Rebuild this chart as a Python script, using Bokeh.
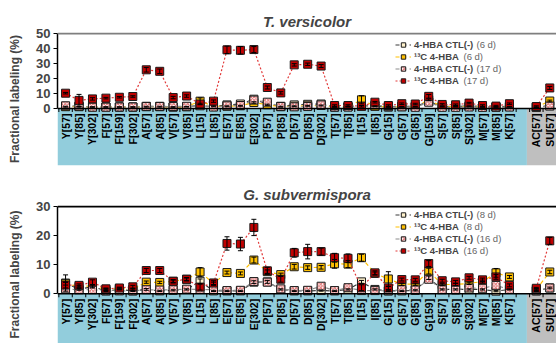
import numpy as np
from bokeh.plotting import figure
from bokeh.models import (ColumnDataSource, Range1d, FixedTicker, BoxAnnotation, Span,
                          Whisker, TeeHead, Legend, LegendItem, Label)
from bokeh.layouts import column
from bokeh.embed import file_html
from bokeh.resources import INLINE
from bokeh.core.properties import value

# ---------------- data ----------------
CATS_MAIN = ["Y[57]", "Y[85]", "Y[302]", "F[57]", "F[159]", "F[302]", "A[57]", "A[85]",
             "V[57]", "V[85]", "L[15]", "L[85]", "E[57]", "E[85]", "E[302]", "P[57]", "P[85]",
             "D[57]", "D[85]", "D[302]", "T[57]", "T[85]", "I[15]", "I[85]", "G[15]", "G[57]",
             "G[85]", "G[159]", "S[57]", "S[85]", "S[302]", "M[57]", "M[85]", "K[57]"]
CATS_EXTRA = ["AC[57]", "SU[57]"]

TV_TITLE = "T. versicolor"
TV_LABELS = [("4-HBA CTL(-)", "(6 d)"), ("\u00b9\u00b3C 4-HBA", "(6 d)"),
             ("4-HBA CTL(-)", "(17 d)"), ("\u00b9\u00b3C 4-HBA", "(17 d)")]
TV_CTL_A = [1.5, 1.5, 1.0, 1.0, 1.0, 1.0, 1.5, 1.5, 1.0, 1.2, 2.0, 1.2, 2.4, 3.0, 6.2, 3.0, 1.5,
            2.4, 2.8, 3.0, 1.0, 1.2, 2.0, 1.5, 1.2, 1.5, 1.5, 4.5, 1.5, 1.2, 1.8, 1.2, 1.0, 1.5,
            1.0, 2.0]
TV_13C_A = [1.2, 1.2, 1.0, 1.0, 1.0, 1.0, 1.2, 1.2, 1.0, 1.2, 4.9, 1.5, 1.5, 1.8, 4.0, 2.5, 1.2,
            1.5, 1.8, 2.0, 1.0, 1.2, 5.8, 1.5, 1.0, 1.2, 1.2, 5.8, 1.2, 1.2, 1.5, 1.0, 1.0, 1.2,
            0.8, 5.0]
TV_13C_A_ERR = [0.3, 0.3, 0.2, 0.2, 0.2, 0.2, 0.3, 0.3, 0.2, 0.2, 2.2, 0.3, 0.3, 0.3, 0.5, 0.4, 0.3,
                0.3, 0.3, 0.3, 0.2, 0.2, 2.7, 0.3, 0.2, 0.2, 0.2, 0.6, 0.2, 0.2, 0.3, 0.2, 0.2, 0.2,
                0.2, 0.6]
TV_CTL_B = [1.8, 1.6, 0.9, 0.9, 1.0, 1.0, 1.3, 1.3, 1.3, 1.5, 1.8, 1.0, 1.8, 2.0, 5.6, 4.2, 1.3,
            1.1, 1.3, 2.4, 1.0, 1.0, 1.5, 2.4, 1.2, 1.1, 0.8, 4.2, 0.8, 0.8, 1.0, 0.8, 0.8, 1.0,
            0.8, 1.6]
TV_13C_B = [10.2, 5.4, 6.4, 6.9, 7.5, 8.0, 25.8, 24.8, 7.3, 8.3, 3.0, 4.9, 39.1, 38.8, 39.3, 14.0,
            10.4, 29.1, 29.5, 28.3, 2.0, 2.0, 1.5, 4.2, 2.0, 3.2, 3.0, 8.1, 2.7, 2.5, 3.6, 2.0, 1.6,
            3.2, 1.3, 13.7]
TV_13C_B_ERR = [0.5, 4.0, 0.8, 0.5, 0.5, 0.5, 1.5, 1.5, 0.8, 0.8, 0.5, 0.8, 2.5, 2.5, 2.0, 1.0,
                0.8, 0.8, 0.8, 1.0, 0.5, 0.5, 0.5, 0.5, 0.5, 0.5, 0.5, 1.2, 0.5, 0.5, 0.5, 0.5,
                0.5, 0.5, 0.5, 1.0]

GS_TITLE = "G. subvermispora"
GS_LABELS = [("4-HBA CTL(-)", "(8 d)"), ("\u00b9\u00b3C 4-HBA", "(8 d)"),
             ("4-HBA CTL(-)", "(16 d)"), ("\u00b9\u00b3C 4-HBA", "(16 d)")]
GS_CTL_A = [3.7, 1.5, 2.5, 1.0, 1.5, 1.0, 1.5, 1.0, 1.2, 1.5, 4.3, 1.0, 1.0, 1.0, 4.0, 4.1, 1.5,
            1.0, 1.0, 1.1, 1.0, 1.5, 4.1, 1.5, 1.0, 1.0, 1.2, 5.5, 1.5, 1.5, 1.5, 1.5, 0.9, 1.5,
            1.0, 2.0]
GS_CTL_A_ERR = [2.8, 0.3, 0.5, 0.2, 0.2, 0.2, 0.3, 0.2, 0.2, 0.2, 0.8, 0.2, 0.2, 0.2, 0.5, 0.5,
                0.2, 0.2, 0.2, 0.2, 0.2, 0.2, 0.5, 0.2, 0.2, 0.2, 0.2, 0.6, 0.2, 0.2, 0.2, 0.2,
                0.2, 0.2, 0.2, 0.3]
GS_13C_A = [3.5, 2.5, 2.7, 1.5, 1.8, 1.6, 4.0, 3.9, 4.3, 5.0, 7.5, 3.6, 7.3, 7.0, 11.6, 7.6, 6.6,
            9.3, 9.0, 9.1, 10.3, 10.2, 12.4, 7.0, 5.1, 3.3, 3.3, 7.8, 3.2, 3.2, 3.6, 4.2, 7.2, 5.8,
            1.5, 7.5]
GS_13C_A_ERR = [0.5, 0.4, 0.4, 0.3, 0.3, 0.3, 0.4, 0.4, 0.4, 0.4, 1.5, 0.4, 0.5, 0.5, 1.0, 0.6,
                0.5, 0.8, 0.6, 0.6, 1.5, 1.2, 1.2, 0.5, 2.5, 0.4, 0.4, 1.0, 0.4, 0.4, 0.4, 0.5,
                1.5, 0.5, 0.3, 0.6]
GS_CTL_B = [1.7, 1.4, 1.4, 1.0, 1.0, 1.0, 1.4, 1.3, 1.4, 1.6, 1.5, 1.4, 1.1, 1.2, 4.2, 4.0, 1.7,
            1.1, 1.2, 2.6, 1.1, 2.1, 1.1, 1.1, 1.0, 1.4, 1.3, 5.0, 1.4, 1.3, 2.0, 1.9, 2.9, 1.5,
            1.0, 2.0]
GS_13C_B = [3.0, 2.9, 4.0, 1.7, 2.0, 2.4, 8.0, 8.0, 4.3, 5.0, 2.3, 3.7, 17.3, 17.1, 22.8, 7.9,
            5.0, 14.1, 14.5, 14.5, 12.4, 12.2, 2.1, 7.2, 2.0, 4.9, 4.8, 10.4, 4.5, 4.1, 5.5, 4.8,
            5.8, 2.9, 1.9, 18.2]
GS_13C_B_ERR = [1.0, 0.5, 0.8, 0.3, 0.3, 0.5, 0.7, 0.7, 0.6, 0.6, 1.0, 0.8, 2.3, 2.3, 2.8, 1.2,
                1.0, 1.5, 2.5, 1.2, 1.5, 1.5, 1.0, 0.7, 0.5, 0.5, 0.5, 1.0, 0.5, 0.5, 0.5, 0.6,
                0.8, 0.5, 0.3, 1.2]

# ---------------- styling ----------------
W = 556
LEFT = 57
X_RANGE = (-0.6, 36.5)
BLUE = "#92cddc"
GREY = "#bfbfbf"
FONT = "Liberation Sans"

STYLES = [
    dict(fill="#fff2cc", line="#3a3a3a", dash="4 3", hatch=None),
    dict(fill="#ffc000", line="#ffc000", dash="4 3", hatch=None),
    dict(fill="#ffffff", line="#8c8c8c", dash="4 3", hatch="diagonal_cross"),
    dict(fill="#c00000", line="#e23a3a", dash="2 2", hatch=None),
]

n_main = len(CATS_MAIN)
x_main = list(range(n_main))
x_extra = [n_main + 1 + j for j in range(len(CATS_EXTRA))]
x_all = x_main + x_extra
cats_all = CATS_MAIN + CATS_EXTRA


def make_panel(title, ymax, px_per_unit, series, errs, labels, frame_h, top_border,
               bottom_border, top_line_color, legend_bottom):
    upp = 1.0 / px_per_unit
    y_top = ymax + upp
    y_bot = y_top - frame_h * upp
    p = figure(width=W, height=frame_h + top_border + bottom_border,
               x_range=Range1d(*X_RANGE), y_range=Range1d(y_bot, y_top),
               output_backend="svg", toolbar_location=None, x_axis_location=None,
               min_border_left=LEFT, min_border_right=0, min_border_top=top_border,
               min_border_bottom=bottom_border)
    p.outline_line_color = None
    p.xgrid.visible = False
    p.ygrid.visible = False

    # title
    p.title.text = title
    p.title.align = "center"
    p.title.offset = -6
    p.title.standoff = 5
    p.title.text_font = FONT
    p.title.text_font_size = "15px"
    p.title.text_font_style = "bold italic"

    # y axis
    ax = p.yaxis[0]
    ax.ticker = FixedTicker(ticks=list(range(0, ymax + 1, 10)))
    ax.bounds = (0, ymax)
    ax.axis_line_width = 1.5
    ax.axis_line_color = "black"
    ax.major_tick_in = 0
    ax.major_tick_out = 4
    ax.major_tick_line_width = 1.2
    ax.minor_tick_line_color = None
    ax.major_label_text_font = FONT
    ax.major_label_text_font_style = "bold"
    ax.major_label_text_font_size = "13px"
    ax.major_label_standoff = 3
    ax.axis_label = "Fractional labeling (%)"
    ax.axis_label_text_font = FONT
    ax.axis_label_text_font_style = "bold"
    ax.axis_label_text_font_size = "12px"
    ax.axis_label_standoff = 11

    # category band below zero
    band_end = n_main + 0.3
    p.add_layout(BoxAnnotation(top=0, right=band_end, fill_color=BLUE, fill_alpha=1,
                               line_color=None, level="underlay"))
    p.add_layout(BoxAnnotation(top=0, left=band_end, fill_color=GREY, fill_alpha=1,
                               line_color=None, level="underlay"))
    p.add_layout(Span(location=0, dimension="width", line_color="black", line_width=1.5))
    p.add_layout(Span(location=ymax, dimension="width", line_color=top_line_color,
                      line_width=2))
    bounds = [i - 0.5 for i in range(0, x_all[-1] + 2)]
    p.segment(x0=bounds, y0=[0] * len(bounds), x1=bounds,
              y1=[-3.5 * upp] * len(bounds), line_color="black", line_width=1)

    # category labels (reading bottom-to-top, top end just under the axis)
    p.text(x=x_all, y=[0] * len(x_all), text=cats_all, angle=np.pi / 2, y_offset=5,
           text_align="right", text_baseline="middle",
           text_font=value(FONT), text_font_style="bold", text_font_size="10.5px",
           text_color="black")

    items = []
    for k, (vals, st) in enumerate(zip(series, STYLES)):
        err = errs[k]
        src_m = ColumnDataSource(dict(x=x_main, y=vals[:n_main]))
        src_e = ColumnDataSource(dict(x=x_extra, y=vals[n_main:]))
        lr = p.line("x", "y", source=src_m, line_color=st["line"], line_width=1.2,
                    line_dash=st["dash"])
        p.line("x", "y", source=src_e, line_color=st["line"], line_width=1.2,
               line_dash=st["dash"])
        if err is not None:
            wsrc = ColumnDataSource(dict(x=x_all, lo=[v - e for v, e in zip(vals, err)],
                                         hi=[v + e for v, e in zip(vals, err)]))
            p.add_layout(Whisker(base="x", lower="lo", upper="hi", source=wsrc,
                                 line_color="black", line_width=1, level="glyph",
                                 upper_head=TeeHead(size=5, line_color="black", line_width=1),
                                 lower_head=TeeHead(size=5, line_color="black", line_width=1)))
        src = ColumnDataSource(dict(x=x_all, y=vals))
        kw = dict(marker="square", size=8, fill_color=st["fill"], line_color="#1a1a1a",
                  line_width=1)
        if st["hatch"]:
            kw.update(hatch_pattern=st["hatch"], hatch_color="#e06666", hatch_scale=3.5,
                      hatch_weight=1.0)
        sr = p.scatter("x", "y", source=src, **kw)
        items.append(LegendItem(label=labels[k][0], renderers=[lr, sr]))

    leg_left = 338
    legend = Legend(items=items, location=(leg_left, legend_bottom), orientation="vertical",
                    background_fill_alpha=0, border_line_alpha=0, padding=0, margin=0,
                    spacing=1, glyph_width=16, glyph_height=11, label_height=11,
                    label_standoff=3, label_text_font=FONT, label_text_font_style="bold",
                    label_text_font_size="9.5px")
    p.add_layout(legend)
    widths = [60, 47, 60, 47]
    for k in range(4):
        yrow = legend_bottom + (3 - k) * 12 + 6
        p.add_layout(Label(x=leg_left + 16 + 3 + widths[k] + 2, y=yrow, x_units="screen",
                           y_units="screen", text=labels[k][1], text_font=FONT,
                           text_font_size="9.5px", text_color="#666666",
                           text_baseline="middle"))
    return p


p1 = make_panel(TV_TITLE, 50, 1.5, [TV_CTL_A, TV_13C_A, TV_CTL_B, TV_13C_B],
                [None, TV_13C_A_ERR, None, TV_13C_B_ERR], TV_LABELS,
                frame_h=133, top_border=32, bottom_border=5, top_line_color="#7f7f7f",
                legend_bottom=79)
p2 = make_panel(GS_TITLE, 30, 2.91, [GS_CTL_A, GS_13C_A, GS_CTL_B, GS_13C_B],
                [GS_CTL_A_ERR, GS_13C_A_ERR, None, GS_13C_B_ERR], GS_LABELS,
                frame_h=138, top_border=35, bottom_border=0, top_line_color="#000000",
                legend_bottom=87)

layout = column(p1, p2, spacing=0)
open("out.html", "w").write(file_html(layout, INLINE))
